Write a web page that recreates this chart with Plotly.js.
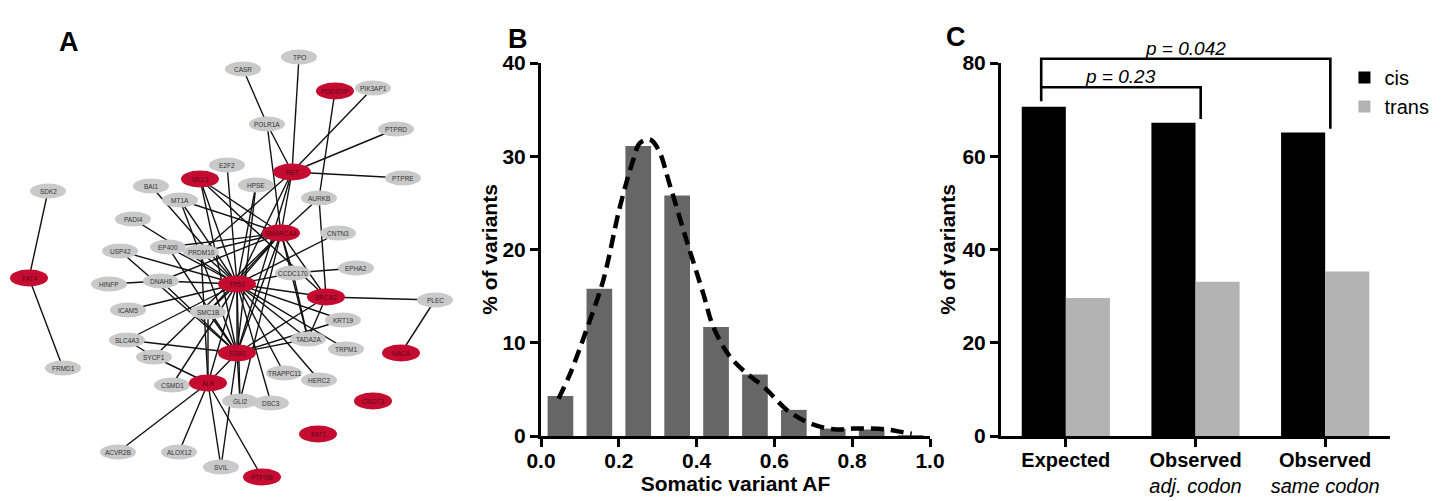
<!DOCTYPE html>
<html><head><meta charset="utf-8">
<script src="https://cdn.plot.ly/plotly-3.0.1.min.js"></script>
<style>html,body{margin:0;padding:0;background:#fff}#chart{width:1441px;height:501px}</style>
</head><body><div id="chart"></div>
<script>
// ---------- Panel A: interaction network ----------
const nodeNames = ["SDK2","FAT4","FRMD1","CASR","TPO","PDE4DIP","PIK3AP1","POLR1A","PTPRD","RET","PTPRE",
  "E2F2","HPSE","MLL3","AURKB","BAI1","MT1A","SMARCA4","CNTN3","PADI4","EP400","PRDM10","USP42","EPHA2",
  "CCDC170","HINFP","DNAH8","TP53","BRCA2","PLEC","ICAM5","SMC1B","KRT19","SLC4A3","TADA2A","ESR1","SYCP1",
  "TRPM1","NACA","TRAPPC11","HERC2","CSMD1","ALK","GLI2","DSC3","CNOT3","FAT1","ACVR2B","ALOX12","SVIL","PTPRB"];
const nodeX = [48,29,63,243,299,335,373,267,396,292,403,
  227,256,200,319,151,180,281,338,133,168,201,120,356,
  293,109,161,237,326,435,128,208,343,127,308,237,154,
  346,401,284,319,172,208,240,271,373,318,118,179,221,262];
const nodeY = [191,278,368,69,57,91,88,124,129,172,178,
  165,185,179,198,186,200,233,233,219,247,252,251,268,
  273,284,281,284,297,300,310,312,320,340,339,353,357,
  349,353,373,380,385,383,401,403,401,434,452,452,467,477];
const nodeMutated = [0,1,0,0,0,1,0,0,0,1,0,
  0,0,1,0,0,0,1,0,0,0,0,0,0,
  0,0,0,1,1,0,0,0,0,0,0,1,0,
  0,1,0,0,0,1,0,0,1,1,0,0,0,1];
const edgeList = [["SDK2","FAT4"],["FAT4","FRMD1"],
  ["CASR","POLR1A"],["POLR1A","RET"],["POLR1A","SMARCA4"],
  ["TPO","RET"],["PIK3AP1","RET"],["PTPRD","RET"],["PTPRE","RET"],
  ["PDE4DIP","AURKB"],["AURKB","BRCA2"],["AURKB","SMARCA4"],
  ["RET","SMARCA4"],["RET","TP53"],["RET","PRDM10"],["RET","ESR1"],
  ["HPSE","TP53"],["HPSE","ESR1"],["E2F2","TP53"],
  ["MLL3","TP53"],["MLL3","SMARCA4"],["MLL3","ESR1"],["MLL3","BRCA2"],
  ["BAI1","TP53"],["MT1A","SMARCA4"],["MT1A","TP53"],["MT1A","ESR1"],
  ["PADI4","TP53"],["USP42","TP53"],["USP42","ESR1"],
  ["EP400","TP53"],["EP400","SMARCA4"],["EP400","ESR1"],
  ["PRDM10","SMARCA4"],["PRDM10","TP53"],["PRDM10","ALK"],
  ["HINFP","DNAH8"],["DNAH8","TP53"],["DNAH8","SMARCA4"],["DNAH8","ESR1"],
  ["ICAM5","TP53"],["SMC1B","TP53"],["SMC1B","ALK"],["SMC1B","SMARCA4"],["SMC1B","ESR1"],
  ["SLC4A3","ESR1"],["SLC4A3","TP53"],["SLC4A3","SYCP1"],["SYCP1","ALK"],["SYCP1","SMARCA4"],
  ["CSMD1","TP53"],
  ["ALK","TP53"],["ALK","ESR1"],["ALK","ACVR2B"],["ALK","ALOX12"],["ALK","PTPRB"],["ALK","SVIL"],
  ["ESR1","TP53"],["ESR1","GLI2"],["ESR1","SVIL"],["ESR1","BRCA2"],["ESR1","TADA2A"],["ESR1","SMARCA4"],["ESR1","KRT19"],
  ["TP53","SMARCA4"],["TP53","CCDC170"],["TP53","BRCA2"],["TP53","KRT19"],["TP53","TRPM1"],["TP53","TADA2A"],
  ["TP53","TRAPPC11"],["TP53","HERC2"],["TP53","DSC3"],["TP53","GLI2"],["TP53","CNTN3"],
  ["CCDC170","EPHA2"],["CCDC170","SMARCA4"],["CCDC170","TADA2A"],
  ["BRCA2","PLEC"],["BRCA2","SMARCA4"],["BRCA2","TADA2A"],
  ["PLEC","NACA"],["SMARCA4","TADA2A"],["SMARCA4","GLI2"]];

// ---------- Panel B: somatic variant AF histogram ----------
const afBinCenters = [0.05,0.15,0.25,0.35,0.45,0.55,0.65,0.75,0.85,0.95];
const afPercent = [4.3,15.8,31.1,25.8,11.7,6.6,2.8,0.8,0.7,0.1];
const densityX = [0.045,0.075,0.117,0.16,0.203,0.237,0.254,0.28,0.302,0.332,0.374,0.417,0.443,0.486,0.529,0.572,0.632,0.674,0.717,0.76,0.803,0.846,0.889,0.931,0.953];
const densityY = [4.0,6.7,11.4,16.7,24.6,29.6,31.4,31.8,30.7,26.8,21.0,15.3,11.7,8.5,6.7,5.3,2.8,1.7,1.0,0.7,0.8,0.8,0.7,0.4,0.25];
const afTickVals = [0,0.2,0.4,0.6,0.8,1.0];
const afTickText = ["0.0","0.2","0.4","0.6","0.8","1.0"];

// ---------- Panel C: cis / trans ----------
const phaseCategories = ["Expected","Observed adj. codon","Observed same codon"];
const phaseTickText = ["<b>Expected</b>","<b>Observed</b><br><i>adj. codon</i>","<b>Observed</b><br><i>same codon</i>"];
const cisPercent = [70.6,67.2,65.1];
const transPercent = [29.6,33.1,35.3];
const comparisonFrom = [0,0];
const comparisonTo = [1,2];
const comparisonLabel = ["p = 0.23","p = 0.042"];

// ---------- layout constants ----------
const W = 1441, H = 501;
const FONT = "Liberation Sans, Arial, Helvetica, sans-serif";
const domBx = [541/W, 930/W], domCx = [1001/W, 1390/W], domY = [1-436/H, 1-63/H];
const RED = "#c50b30", GREY = "#c9c9c9";
const bracketLevels = [74.8, 80.9];
const legOffsetLeft = -0.19, legOffsetRight = 0.04;

const idx = {}; nodeNames.forEach((n,i)=>idx[n]=i);
const ex = [], ey = [];
edgeList.forEach(([a,b])=>{ ex.push(nodeX[idx[a]], nodeX[idx[b]], null); ey.push(nodeY[idx[a]], nodeY[idx[b]], null); });

const shapes = [], annotations = [];
nodeNames.forEach((n,i)=>{
  const rx = nodeMutated[i] ? 19 : 18, ry = nodeMutated[i] ? 8.5 : 7.5;
  shapes.push({type:'circle', xref:'x3', yref:'y3', layer:'above',
    x0:nodeX[i]-rx, x1:nodeX[i]+rx, y0:nodeY[i]-ry, y1:nodeY[i]+ry,
    fillcolor: nodeMutated[i] ? RED : GREY, line:{width:0}});
  annotations.push({xref:'x3', yref:'y3', x:nodeX[i], y:nodeY[i], text:n, showarrow:false,
    font:{family:FONT, size:6.5, color: nodeMutated[i] ? "#5a0a16" : "#333"}});
});

const yToPaper = v => domY[0] + v/80*(domY[1]-domY[0]);
comparisonFrom.forEach((f,k)=>{
  const t = comparisonTo[k];
  const xl = f + legOffsetLeft, xr = t + legOffsetRight;
  const top = bracketLevels[k];
  const leftBottom = k === 0 ? cisPercent[f] + 1.2 : bracketLevels[k-1];
  const rightBottom = cisPercent[t] + 0.8;
  shapes.push({type:'path', xref:'x2', yref:'paper', layer:'above',
    path:`M${xl},${yToPaper(leftBottom)}L${xl},${yToPaper(top)}L${xr},${yToPaper(top)}L${xr},${yToPaper(rightBottom)}`,
    line:{color:'#000', width:2.6}});
  annotations.push({xref:'x2', yref:'paper', x:(xl+xr)/2, y:yToPaper(top)-0.004, yanchor:'bottom',
    text:comparisonLabel[k], showarrow:false, font:{family:FONT, size:19, style:'italic', color:'#000'}});
});

[["A",57,25],["B",518,22],["C",968,20]].forEach(([t,px,py])=>{
  annotations.push({xref:'paper', yref:'paper', x:px/W, y:1-py/H, text:'<b>'+t+'</b>', showarrow:false,
    font:{family:FONT, size:27, color:'#000'}});
});

const traces = [
  {type:'scatter', mode:'lines', x:ex, y:ey, xaxis:'x3', yaxis:'y3', line:{color:'#111', width:1.4}, showlegend:false, hoverinfo:'skip'},
  {type:'bar', x:afBinCenters, y:afPercent, width:afBinCenters.map(()=>0.066), xaxis:'x', yaxis:'y',
    marker:{color:'#666666'}, showlegend:false},
  {type:'scatter', mode:'lines', x:densityX, y:densityY, xaxis:'x', yaxis:'y', line:{shape:'spline', color:'#000', width:4.5, dash:'13px,7px'}, showlegend:false},
  {type:'bar', name:'cis', x:phaseCategories.map((_,i)=>i), y:cisPercent, xaxis:'x2', yaxis:'y2', marker:{color:'#000'}},
  {type:'bar', name:'trans', x:phaseCategories.map((_,i)=>i), y:transPercent, xaxis:'x2', yaxis:'y2', marker:{color:'#b3b3b3'}}
];

const axStyle = {showline:true, linecolor:'#000', linewidth:3, ticks:'outside', ticklen:8, tickwidth:3, tickcolor:'#000',
  showgrid:false, zeroline:false, fixedrange:true, tickfont:{family:FONT, size:21, color:'#000', weight:'bold'}};

const layout = {
  width:W, height:H, margin:{l:0,r:0,t:0,b:0}, paper_bgcolor:'#fff', plot_bgcolor:'rgba(0,0,0,0)',
  barmode:'group', bargap:0.32, bargroupgap:0,
  font:{family:FONT, color:'#000'},
  xaxis: Object.assign({}, axStyle, {domain:domBx, range:[0,1], tickvals:afTickVals, ticktext:afTickText, anchor:'y',
    ticklabelstandoff:-4,
    title:{text:'<b>Somatic variant AF</b>', font:{family:FONT, size:21}, standoff:0}}),
  yaxis: Object.assign({}, axStyle, {domain:domY, range:[0,40], dtick:10, anchor:'x',
    title:{text:'<b>% of variants</b>', font:{family:FONT, size:21}, standoff:0}}),
  xaxis2: Object.assign({}, axStyle, {domain:domCx, range:[-0.5,2.5], tickvals:[0,1,2], ticktext:phaseTickText, anchor:'y2',
    ticklabelstandoff:-4, tickfont:{family:FONT, size:20, color:'#000', weight:'normal'}}),
  yaxis2: Object.assign({}, axStyle, {domain:domY, range:[0,80], dtick:20, anchor:'x2',
    title:{text:'<b>% of variants</b>', font:{family:FONT, size:21}, standoff:2}}),
  xaxis3: {domain:[0,475/W], range:[0,475], visible:false, fixedrange:true, anchor:'y3'},
  yaxis3: {domain:[0,1], range:[H,0], visible:false, fixedrange:true, anchor:'x3'},
  showlegend:true,
  legend:{x:0.933, y:1-58/H, xanchor:'left', yanchor:'top', font:{family:FONT, size:20, color:'#000'}, bgcolor:'rgba(0,0,0,0)', tracegroupgap:0},
  shapes:shapes, annotations:annotations
};

Plotly.newPlot('chart', traces, layout, {staticPlot:true, displayModeBar:false});
</script></body></html>
